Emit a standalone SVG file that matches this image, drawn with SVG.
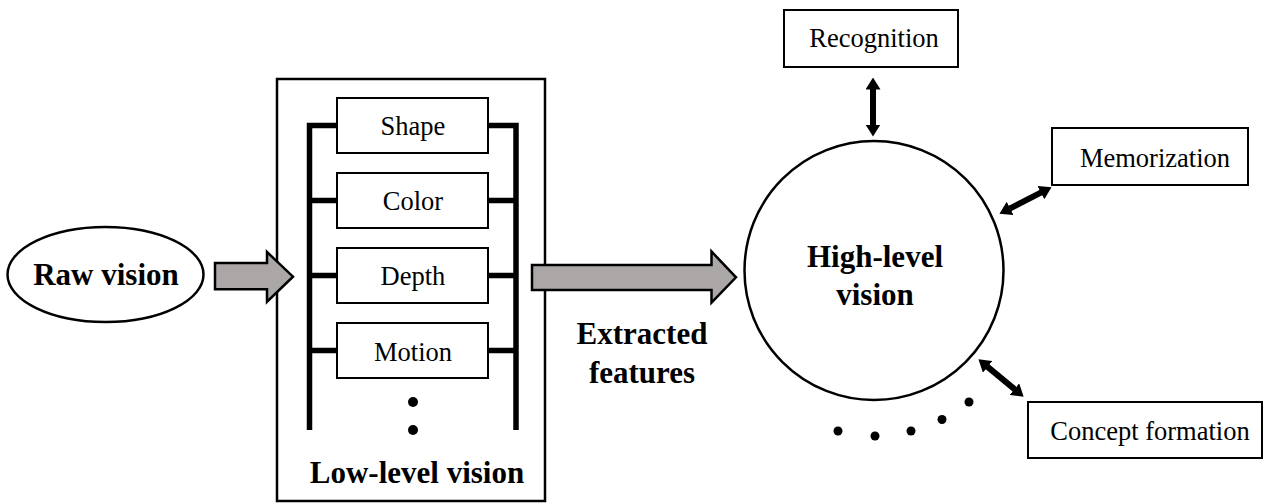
<svg xmlns="http://www.w3.org/2000/svg" width="1265" height="504" viewBox="0 0 1265 504">
<style>
.box{fill:#fff;stroke:#000;stroke-width:2}
.lbl{font-family:"Liberation Serif","Times New Roman",serif;font-size:26.5px;fill:#000;text-anchor:middle}
.big{font-family:"Liberation Serif","Times New Roman",serif;font-size:31px;font-weight:bold;fill:#000;text-anchor:middle}
.bar{fill:none;stroke:#000;stroke-width:5.5;stroke-linecap:butt}
.garrow{fill:#aba7a7;stroke:#000;stroke-width:2.5;stroke-linejoin:miter}
.dbl{stroke:#000;stroke-width:6;fill:none;marker-start:url(#head);marker-end:url(#head)}
.dot{fill:#000}
</style>
<defs>
<marker id="head" viewBox="0 0 12 15" refX="0.5" refY="7.5" markerWidth="12" markerHeight="15" markerUnits="userSpaceOnUse" orient="auto-start-reverse">
<path d="M0,0 L12,7.5 L0,15 z" fill="#000"/>
</marker>
</defs>
<g id="raw-vision">
<ellipse cx="105.5" cy="274.5" rx="98" ry="47.5" fill="#fff" stroke="#000" stroke-width="2.5"/>
<text class="big" x="106" y="285">Raw vision</text>
</g>
<g id="low-level-vision">
<rect x="277" y="79" width="268" height="422" fill="#fff" stroke="#000" stroke-width="2.5"/>
<path class="bar" d="M309.5,430 V125.5 H338 M309.5,200.5 H338 M309.5,275.5 H338 M309.5,350.5 H338"/>
<path class="bar" d="M516,430 V125.5 H488 M516,200.5 H488 M516,275.5 H488 M516,350.5 H488"/>
<text class="big" x="417" y="483">Low-level vision</text>
<circle class="dot" cx="413" cy="402" r="5"/>
<circle class="dot" cx="413" cy="430" r="5"/>
</g>
<g id="shape"><rect class="box" x="337" y="98" width="151" height="55"/><text class="lbl" x="413" y="135">Shape</text></g>
<g id="color"><rect class="box" x="337" y="173" width="151" height="55"/><text class="lbl" x="413" y="210">Color</text></g>
<g id="depth"><rect class="box" x="337" y="248" width="151" height="55"/><text class="lbl" x="413" y="285">Depth</text></g>
<g id="motion"><rect class="box" x="337" y="323" width="151" height="55"/><text class="lbl" x="413" y="361">Motion</text></g>
<g id="high-level-vision">
<circle cx="874" cy="270.5" r="129.5" fill="#fff" stroke="#000" stroke-width="2.5"/>
<text class="big" x="875" y="267">High-level</text>
<text class="big" x="875" y="305">vision</text>
</g>
<g id="recognition"><rect class="box" x="784" y="10" width="174" height="57"/><text class="lbl" x="874" y="47">Recognition</text></g>
<g id="memorization"><rect class="box" x="1052" y="128" width="196" height="57"/><text class="lbl" x="1155" y="167">Memorization</text></g>
<g id="concept-formation"><rect class="box" x="1028" y="402" width="234" height="56"/><text class="lbl" x="1150" y="440">Concept formation</text></g>
<g id="extracted-features-label">
<text class="big" x="642" y="344">Extracted</text>
<text class="big" x="642" y="383">features</text>
</g>
<g id="connectors">
<polygon class="garrow" points="215,263 267,263 267,252 293,276.7 267,301.7 267,289.3 215,289.3"/>
<polygon class="garrow" points="532,265 711.5,265 711.5,251.5 736,277.3 711.5,302.7 711.5,290 532,290"/>
<line class="dbl" x1="873" y1="89" x2="873" y2="125"/>
<line class="dbl" x1="1009.7" y1="208.6" x2="1041.3" y2="192.4"/>
<line class="dbl" x1="987.3" y1="366.6" x2="1014.8" y2="389.4"/>
</g>
<g id="ellipsis-dots">
<circle class="dot" cx="838" cy="431" r="4.5"/>
<circle class="dot" cx="875" cy="436" r="4.5"/>
<circle class="dot" cx="911" cy="431" r="4.5"/>
<circle class="dot" cx="942" cy="419.5" r="4.5"/>
<circle class="dot" cx="969" cy="402" r="4.5"/>
</g>
</svg>
